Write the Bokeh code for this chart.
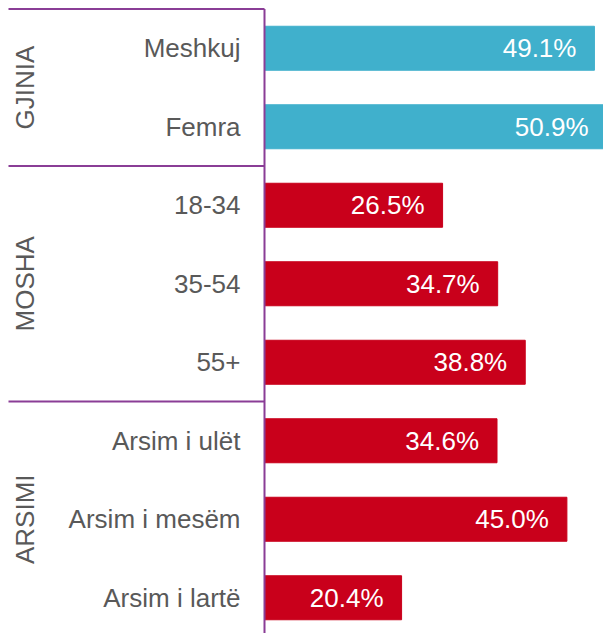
import math
from bokeh.plotting import figure
from bokeh.models import Range1d, ColumnDataSource
from bokeh.core.properties import value
from bokeh.embed import file_html
from bokeh.resources import INLINE

groups = ["GJINIA", "MOSHA", "ARSIMI"]
group_sizes = [2, 3, 3]
group_colors = ["#40B0CC", "#C9001B", "#C9001B"]
categories = ["Meshkuj", "Femra", "18-34", "35-54", "55+",
              "Arsim i ulët", "Arsim i mesëm", "Arsim i lartë"]
values = [49.1, 50.9, 26.5, 34.7, 38.8, 34.6, 45.0, 20.4]

W, H = 603, 633
PX_PER_CAT = 78.5
PX_PER_PCT = 6.72
AXIS_PX = 264
TOP_PX = 8.5
y_top = -TOP_PX / PX_PER_CAT
y_bot = y_top + H / PX_PER_CAT
x_start = -AXIS_PX / PX_PER_PCT
x_end = (W - AXIS_PX) / PX_PER_PCT

p = figure(width=W, height=H, output_backend="svg", toolbar_location=None,
           x_range=Range1d(x_start, x_end), y_range=Range1d(y_bot, y_top),
           min_border=0)
p.axis.visible = False
p.grid.visible = False
p.outline_line_color = None
p.background_fill_color = "white"

ys = [i + 0.5 for i in range(len(categories))]
colors = []
for g, n in enumerate(group_sizes):
    colors += [group_colors[g]] * n

src = ColumnDataSource(dict(y=ys, v=values, cat=categories, col=colors,
                            lab=[f"{v:.1f}%" for v in values],
                            zero=[0] * len(values)))
p.hbar(y="y", left=0, right="v", height=44 / PX_PER_CAT, color="col", source=src)

FONT = value("Liberation Sans")
p.text(x="v", y="y", text="lab", source=src, x_offset=-18, text_align="right",
       text_baseline="middle", text_color="white", text_font=FONT,
       text_font_size="26px")
p.text(x="zero", y="y", text="cat", source=src, x_offset=-24, text_align="right",
       text_baseline="middle", text_color="#595959", text_font=FONT,
       text_font_size="26px")

# group labels and separators
bounds = [0]
for n in group_sizes:
    bounds.append(bounds[-1] + n)
gsrc = ColumnDataSource(dict(
    x=[x_start] * len(groups),
    y=[(bounds[i] + bounds[i + 1]) / 2 for i in range(len(groups))],
    t=groups))
p.text(x="x", y="y", text="t", source=gsrc, x_offset=24, angle=math.pi / 2,
       text_align="center", text_baseline="middle", text_color="#595959",
       text_font=FONT, text_font_size="26px")

PURPLE = "#8A3D96"
sep_y = bounds[:-1]
sep_x0 = x_start + 8 / PX_PER_PCT
p.segment(x0=[sep_x0] * len(sep_y), x1=[0] * len(sep_y), y0=sep_y, y1=sep_y,
          line_color=PURPLE, line_width=2)
p.segment(x0=[0], x1=[0], y0=[0], y1=[y_bot], line_color=PURPLE, line_width=2)

open("out.html", "w").write(file_html(p, INLINE))
